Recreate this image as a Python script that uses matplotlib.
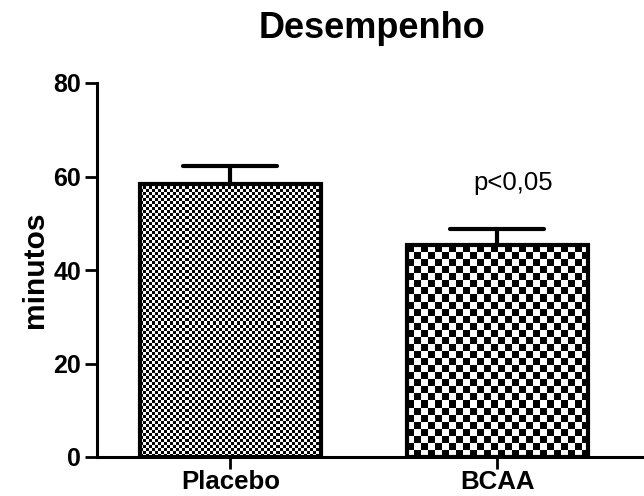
import numpy as np
import matplotlib
matplotlib.use('Agg')
import matplotlib.pyplot as plt

# data
groups = ['Placebo', 'BCAA']
means = [58.5, 45.3]
sem = [3.8, 3.5]
cell_px = [3, 7]   # checkerboard cell size per bar (pixels)
yticks = [0, 20, 40, 60, 80]
annot = 'p<0,05'

plt.rcParams['font.family'] = ['Liberation Sans', 'DejaVu Sans']

fig = plt.figure(figsize=(6.44, 4.96), dpi=100)
ax = fig.add_axes([97/644, 39/496, 1 - 97/644, (457-83)/496])

x = np.arange(len(groups))
bars = ax.bar(x, means, width=0.68, facecolor='none', edgecolor='black',
              linewidth=3.0, zorder=3)
tops = np.array(means) + np.array(sem)
ax.vlines(x, means, tops, color='black', linewidth=3.0, zorder=2)
ax.hlines(tops, x - 0.176, x + 0.176, color='black', linewidth=3.0,
          capstyle='round', zorder=2)

ax.set_xlim(-0.5, 1.55)
ax.set_ylim(0, 80)
ax.set_yticks(yticks)
ax.set_xticks(x)
ax.set_xticklabels(groups)

fig.canvas.draw()
# checkerboard fill, clipped to each bar
for b, c in zip(bars, cell_px):
    x0, y0 = b.get_x(), b.get_y()
    w, h = b.get_width(), b.get_height()
    p0 = ax.transData.transform((x0, y0))
    p1 = ax.transData.transform((x0 + w, y0 + h))
    nx = int(round((p1[0] - p0[0]) / c))
    ny = int(round((p1[1] - p0[1]) / c))
    board = (np.add.outer(np.arange(ny), np.arange(nx)) % 2).astype(float)
    im = ax.imshow(board, cmap='gray', extent=(x0, x0 + w, y0, y0 + h),
                   interpolation='nearest', aspect='auto', zorder=2.5, vmin=0, vmax=1)
    im.set_clip_path(b)
ax.set_xlim(-0.5, 1.55)
ax.set_ylim(0, 80)

for s in ['top', 'right']:
    ax.spines[s].set_visible(False)
for s in ['left', 'bottom']:
    ax.spines[s].set_linewidth(2.2)

ax.tick_params(axis='both', length=8.6, width=2.0, direction='out')
ax.tick_params(axis='y', labelsize=18, pad=3)
ax.tick_params(axis='x', labelsize=18.6, pad=1)
for lab in ax.get_xticklabels() + ax.get_yticklabels():
    lab.set_fontweight('bold')

ax.set_ylabel('minutos', fontsize=21.5, fontweight='bold', labelpad=3)
ax.text(1.06, 58.6, annot, fontsize=18.5, ha='center', va='center')
fig.text(372/644, 1 - 28/496, 'Desempenho', fontsize=26, fontweight='bold',
         ha='center', va='center')

fig.savefig('out.png', dpi=100)
